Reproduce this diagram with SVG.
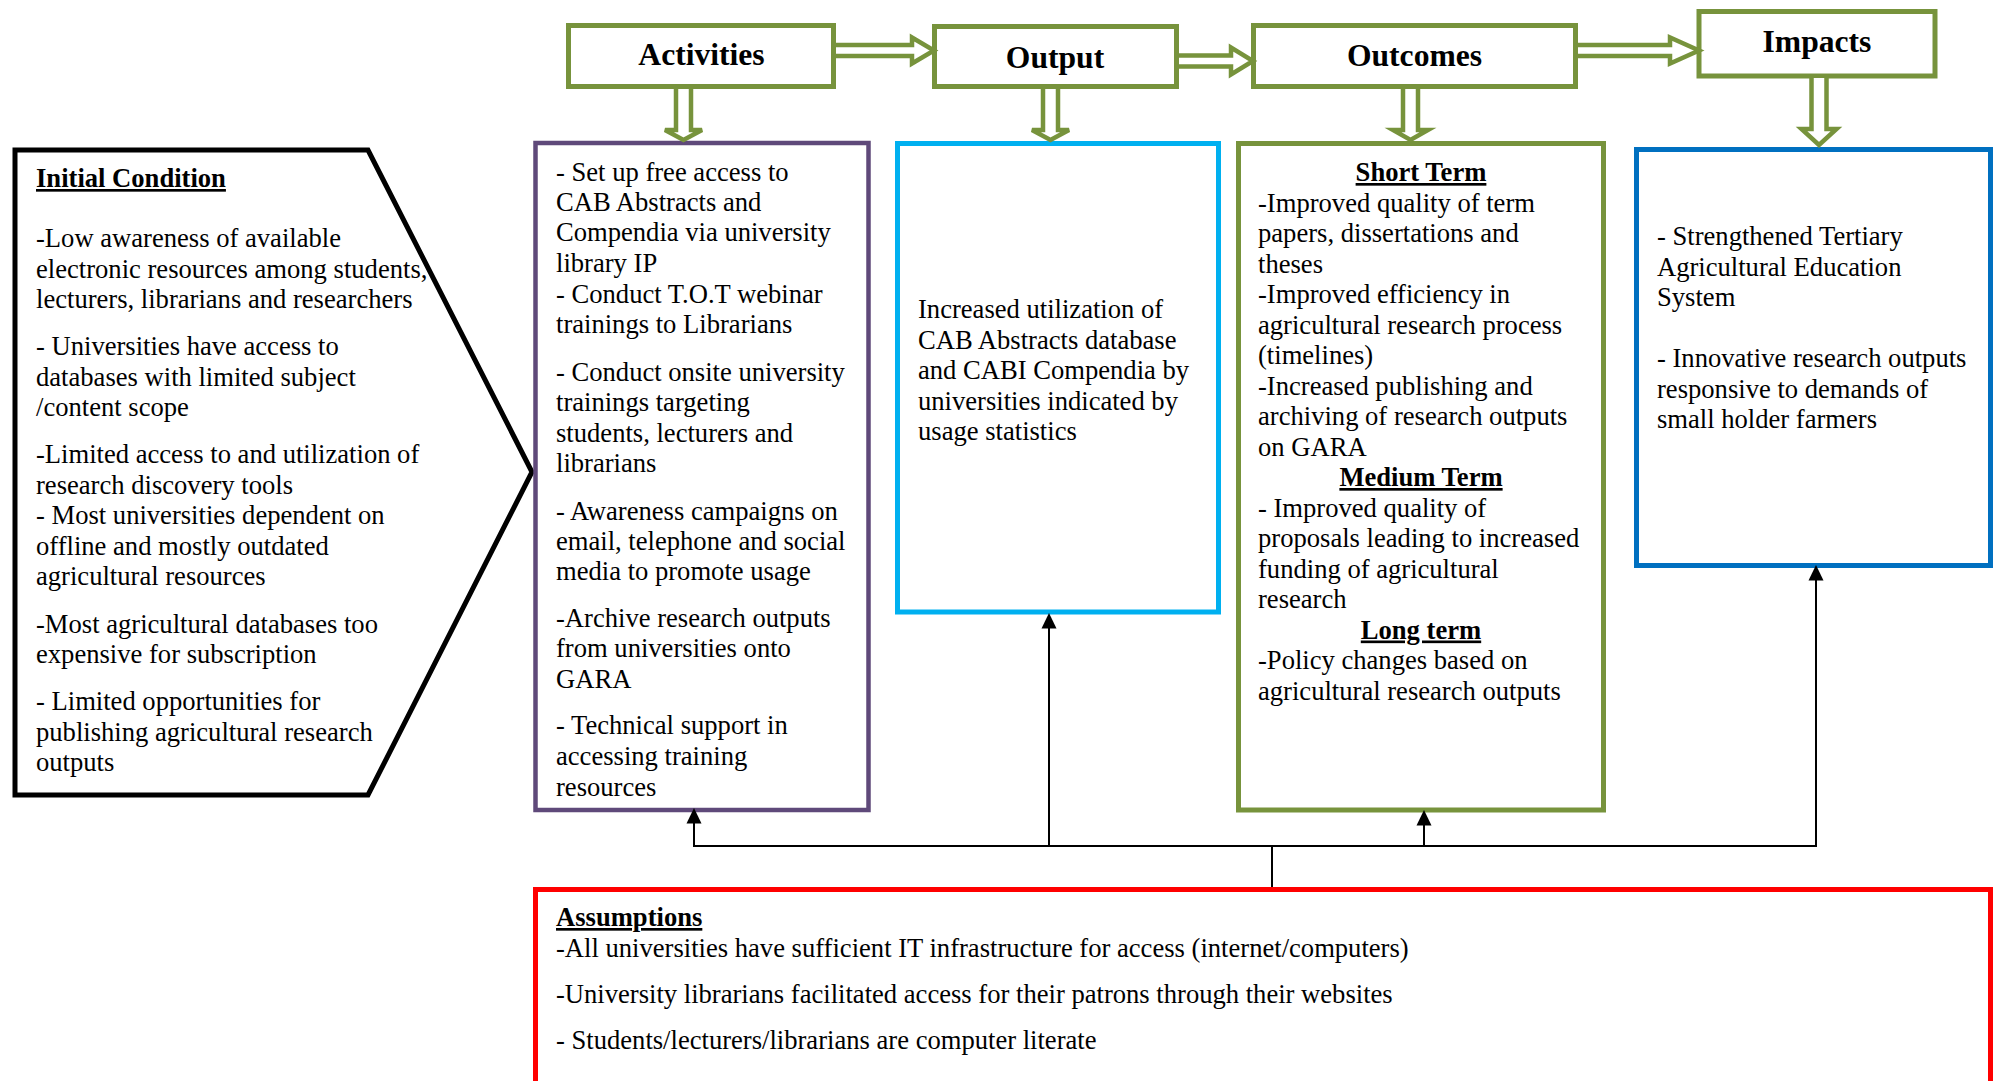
<svg xmlns="http://www.w3.org/2000/svg" width="2000" height="1081" viewBox="0 0 2000 1081">
<style>
.t{font-family:"Liberation Serif","Times New Roman",serif;font-size:26.6px;fill:#000}
.b{font-weight:bold;text-decoration:underline}
.c{text-anchor:middle}
.ti{font-family:"Liberation Serif","Times New Roman",serif;font-size:31.6px;font-weight:bold;fill:#000;text-anchor:middle}
.gb{fill:#fff;stroke:#77933c;stroke-width:5}
.ba{fill:#fff;stroke:none}
.bs{fill:none;stroke:#77933c;stroke-width:4.5;stroke-linejoin:miter}
.ln{fill:none;stroke:#000;stroke-width:2}
.ah{fill:#000}
</style>
<rect x="0" y="0" width="2000" height="1081" fill="#fff"/>

<g id="initial-condition">
<polygon points="15,150 368,150 532,472 368,795 15,795" fill="#fff" stroke="#000" stroke-width="5"/>
<text class="t b" x="36" y="187">Initial Condition</text>
<text class="t" x="36" y="247">-Low awareness of available</text>
<text class="t" x="36" y="278">electronic resources among students,</text>
<text class="t" x="36" y="308">lecturers, librarians and researchers</text>
<text class="t" x="36" y="355">- Universities have access to</text>
<text class="t" x="36" y="386">databases with limited subject</text>
<text class="t" x="36" y="416">/content scope</text>
<text class="t" x="36" y="463">-Limited access to and utilization of</text>
<text class="t" x="36" y="494">research discovery tools</text>
<text class="t" x="36" y="524">- Most universities dependent on</text>
<text class="t" x="36" y="555">offline and mostly outdated</text>
<text class="t" x="36" y="585">agricultural resources</text>
<text class="t" x="36" y="633">-Most agricultural databases too</text>
<text class="t" x="36" y="663">expensive for subscription</text>
<text class="t" x="36" y="710">- Limited opportunities for</text>
<text class="t" x="36" y="741">publishing agricultural research</text>
<text class="t" x="36" y="771">outputs</text>
</g>

<g id="activities">
<rect class="gb" x="568.5" y="25.5" width="265" height="61"/>
<text class="ti" x="701.5" y="65">Activities</text>
</g>

<g id="output">
<rect class="gb" x="934.5" y="26.5" width="242" height="60"/>
<text class="ti" x="1055" y="68">Output</text>
</g>

<g id="outcomes">
<rect class="gb" x="1253.5" y="25.5" width="322" height="61"/>
<text class="ti" x="1414.5" y="66">Outcomes</text>
</g>

<g id="impacts">
<rect class="gb" x="1699" y="11.5" width="236" height="64.5"/>
<text class="ti" x="1817" y="52">Impacts</text>
</g>

<g id="activities-detail">
<rect x="535.5" y="143" width="333" height="667" fill="#fff" stroke="#5f497a" stroke-width="4.5"/>
<text class="t" x="556" y="181">- Set up free access to</text>
<text class="t" x="556" y="211">CAB Abstracts and</text>
<text class="t" x="556" y="241">Compendia via university</text>
<text class="t" x="556" y="272">library IP</text>
<text class="t" x="556" y="303">- Conduct T.O.T webinar</text>
<text class="t" x="556" y="333">trainings to Librarians</text>
<text class="t" x="556" y="381">- Conduct onsite university</text>
<text class="t" x="556" y="411">trainings targeting</text>
<text class="t" x="556" y="442">students, lecturers and</text>
<text class="t" x="556" y="472">librarians</text>
<text class="t" x="556" y="520">- Awareness campaigns on</text>
<text class="t" x="556" y="550">email, telephone and social</text>
<text class="t" x="556" y="580">media to promote usage</text>
<text class="t" x="556" y="627">-Archive research outputs</text>
<text class="t" x="556" y="657">from universities onto</text>
<text class="t" x="556" y="688">GARA</text>
<text class="t" x="556" y="734">- Technical support in</text>
<text class="t" x="556" y="765">accessing training</text>
<text class="t" x="556" y="796">resources</text>
</g>

<g id="output-detail">
<rect x="897.5" y="143.5" width="321" height="468.5" fill="#fff" stroke="#00b0f0" stroke-width="5"/>
<text class="t" x="918" y="318">Increased utilization of</text>
<text class="t" x="918" y="349">CAB Abstracts database</text>
<text class="t" x="918" y="379">and CABI Compendia by</text>
<text class="t" x="918" y="410">universities indicated by</text>
<text class="t" x="918" y="440">usage statistics</text>
</g>

<g id="outcomes-detail">
<rect x="1238.5" y="143.5" width="365" height="666.5" fill="#fff" stroke="#77933c" stroke-width="5"/>
<text class="t b c" x="1421" y="181">Short Term</text>
<text class="t" x="1258" y="211.5">-Improved quality of term</text>
<text class="t" x="1258" y="242">papers, dissertations and</text>
<text class="t" x="1258" y="272.5">theses</text>
<text class="t" x="1258" y="303">-Improved efficiency in</text>
<text class="t" x="1258" y="333.5">agricultural research process</text>
<text class="t" x="1258" y="364">(timelines)</text>
<text class="t" x="1258" y="394.5">-Increased publishing and</text>
<text class="t" x="1258" y="425">archiving of research outputs</text>
<text class="t" x="1258" y="455.5">on GARA</text>
<text class="t b c" x="1421" y="486">Medium Term</text>
<text class="t" x="1258" y="516.5">- Improved quality of</text>
<text class="t" x="1258" y="547">proposals leading to increased</text>
<text class="t" x="1258" y="577.5">funding of agricultural</text>
<text class="t" x="1258" y="608">research</text>
<text class="t b c" x="1421" y="638.5">Long term</text>
<text class="t" x="1258" y="669">-Policy changes based on</text>
<text class="t" x="1258" y="699.5">agricultural research outputs</text>
</g>

<g id="impacts-detail">
<rect x="1636.5" y="149.5" width="354" height="416" fill="#fff" stroke="#0070c0" stroke-width="5"/>
<text class="t" x="1657" y="245">- Strengthened Tertiary</text>
<text class="t" x="1657" y="275.5">Agricultural Education</text>
<text class="t" x="1657" y="306">System</text>
<text class="t" x="1657" y="367">- Innovative research outputs</text>
<text class="t" x="1657" y="397.5">responsive to demands of</text>
<text class="t" x="1657" y="428">small holder farmers</text>
</g>

<g id="assumptions">
<rect x="535.5" y="889.5" width="1455" height="220" fill="#fff" stroke="#ff0000" stroke-width="5"/>
<text class="t b" x="556" y="926">Assumptions</text>
<text class="t" x="556" y="957">-All universities have sufficient IT infrastructure for access (internet/computers)</text>
<text class="t" x="556" y="1003">-University librarians facilitated access for their patrons through their websites</text>
<text class="t" x="556" y="1049">- Students/lecturers/librarians are computer literate</text>
</g>

<g id="connectors">
<!-- horizontal block arrows -->
<polygon class="ba" points="836,45 912,45 912,37.5 934,50.5 912,63.5 912,56 836,56"/>
<polyline class="bs" points="836,45 912,45 912,37.5 934,50.5 912,63.5 912,56 836,56"/>
<polygon class="ba" points="1179,55.5 1231,55.5 1231,47.5 1253,61 1231,74.5 1231,66.5 1179,66.5"/>
<polyline class="bs" points="1179,55.5 1231,55.5 1231,47.5 1253,61 1231,74.5 1231,66.5 1179,66.5"/>
<polygon class="ba" points="1578,45 1670,45 1670,37.5 1699,50.5 1670,63.5 1670,56 1578,56"/>
<polyline class="bs" points="1578,45 1670,45 1670,37.5 1699,50.5 1670,63.5 1670,56 1578,56"/>
<!-- vertical block arrows -->
<polygon class="ba" points="676,89 676,130 665,130 683.5,140 702,130 691,130 691,89"/>
<polyline class="bs" points="676,89 676,130 665,130 683.5,140 702,130 691,130 691,89"/>
<polygon class="ba" points="1043,89 1043,130 1032,130 1050.5,140 1069,130 1058,130 1058,89"/>
<polyline class="bs" points="1043,89 1043,130 1032,130 1050.5,140 1069,130 1058,130 1058,89"/>
<polygon class="ba" points="1403,89 1403,130 1393,130 1410.5,140 1428,130 1418,130 1418,89"/>
<polyline class="bs" points="1403,89 1403,130 1393,130 1410.5,140 1428,130 1418,130 1418,89"/>
<polygon class="ba" points="1811.5,78 1811.5,129 1801.5,129 1819,145 1836.5,129 1826.5,129 1826.5,78"/>
<polyline class="bs" points="1811.5,78 1811.5,129 1801.5,129 1819,145 1836.5,129 1826.5,129 1826.5,78"/>
<!-- assumption links -->
<line class="ln" x1="1272" y1="887" x2="1272" y2="846" stroke-width="1.5"/>
<polyline class="ln" points="694,823 694,846 1816,846 1816,580"/>
<line class="ln" x1="1049" y1="846" x2="1049" y2="628"/>
<line class="ln" x1="1424" y1="846" x2="1424" y2="825"/>
<polygon class="ah" points="694,808 701.5,823.5 686.5,823.5"/>
<polygon class="ah" points="1049,613 1056.5,628.5 1041.5,628.5"/>
<polygon class="ah" points="1424,810 1431.5,825.5 1416.5,825.5"/>
<polygon class="ah" points="1816,565 1823.5,580.5 1808.5,580.5"/>
</g>
</svg>
